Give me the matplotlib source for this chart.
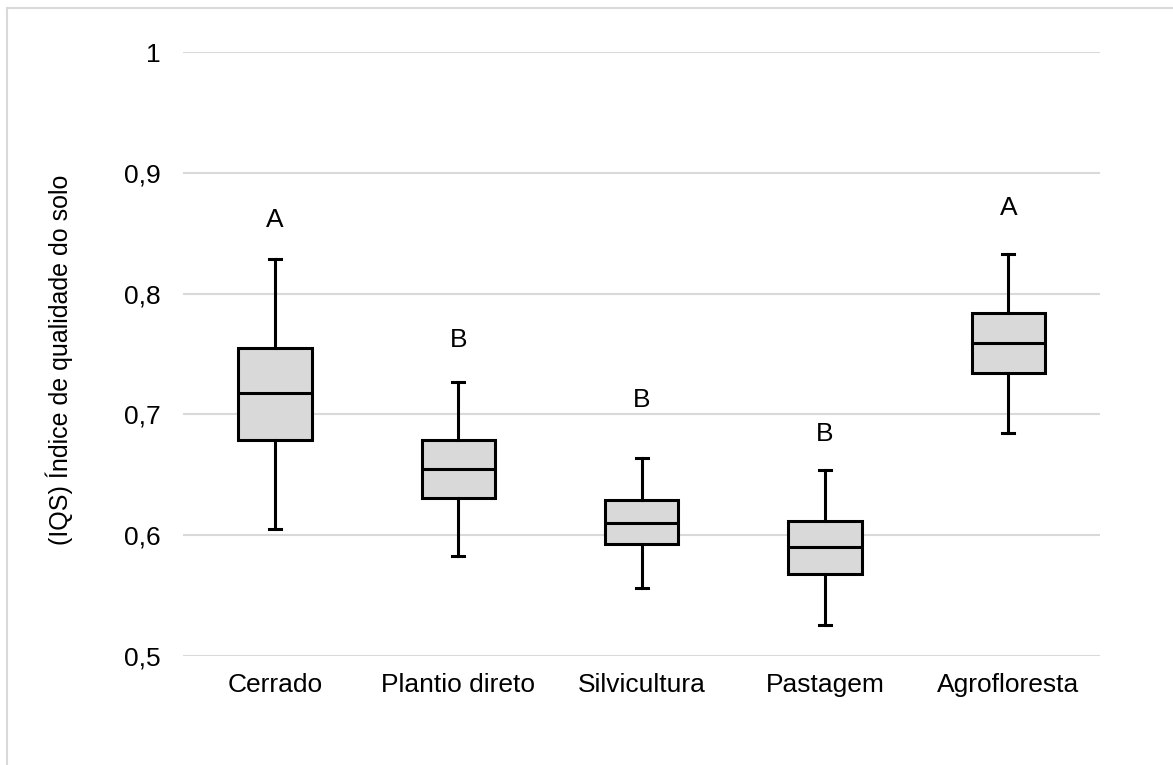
import matplotlib
matplotlib.use("Agg")
import matplotlib.pyplot as plt
from matplotlib.lines import Line2D

categories = ["Cerrado", "Plantio direto", "Silvicultura", "Pastagem", "Agrofloresta"]
whisker_low = [0.605, 0.583, 0.556, 0.526, 0.685]
q1 = [0.679, 0.631, 0.593, 0.568, 0.734]
median = [0.718, 0.655, 0.610, 0.590, 0.759]
q3 = [0.755, 0.679, 0.629, 0.612, 0.784]
whisker_high = [0.829, 0.727, 0.664, 0.654, 0.833]
letters = ["A", "B", "B", "B", "A"]
letter_y = [0.861, 0.762, 0.712, 0.684, 0.871]
yticks = [0.5, 0.6, 0.7, 0.8, 0.9, 1.0]
ytick_labels = ["0,5", "0,6", "0,7", "0,8", "0,9", "1"]

plt.rcParams['font.family'] = ['Liberation Sans', 'DejaVu Sans']

fig = plt.figure(figsize=(11.73, 7.65), dpi=100)
ax = fig.add_axes([0.1563, 0.1425, 0.7815, 0.7895])

stats = []
for i, c in enumerate(categories):
    stats.append(dict(label=c, whislo=whisker_low[i], q1=q1[i], med=median[i],
                      q3=q3[i], whishi=whisker_high[i], fliers=[]))

lw = 2.2
ax.bxp(stats, positions=range(len(categories)), widths=0.40, patch_artist=True,
       showfliers=False,
       boxprops=dict(facecolor="#d9d9d9", edgecolor="black", linewidth=lw),
       medianprops=dict(color="black", linewidth=lw),
       whiskerprops=dict(color="black", linewidth=lw),
       capprops=dict(color="black", linewidth=lw),
       capwidths=0.065, zorder=3)

for i, (t, y) in enumerate(zip(letters, letter_y)):
    ax.text(i, y, t, ha="center", va="center", fontsize=19, color="black")

ax.set_xlim(-0.5, len(categories) - 0.5)
ax.set_ylim(0.5, 1.0)
ax.set_yticks(yticks)
ax.set_yticklabels(ytick_labels)
ax.set_xticks(range(len(categories)))
ax.set_xticklabels(categories)
ax.tick_params(axis="both", length=0, labelsize=19, colors="black")
ax.tick_params(axis="y", pad=16)
ax.tick_params(axis="x", pad=12)
ax.yaxis.grid(True, color="#d9d9d9", linewidth=1.5, zorder=0)
ax.set_axisbelow(True)
for s in ax.spines.values():
    s.set_visible(False)
ax.set_ylabel("(IQS) Índice de qualidade do solo", fontsize=18)
ax.yaxis.set_label_coords(-0.135, 0.49)
ax.yaxis.label.set_va("center")

# outer chart border (top and left visible)
fig.add_artist(Line2D([7 / 1173, 1.0], [1 - 8 / 765, 1 - 8 / 765], transform=fig.transFigure,
                      color="#d9d9d9", linewidth=1.5))
fig.add_artist(Line2D([7 / 1173, 7 / 1173], [0.0, 1 - 8 / 765], transform=fig.transFigure,
                      color="#d9d9d9", linewidth=1.5))

fig.savefig("out.png", dpi=100)
